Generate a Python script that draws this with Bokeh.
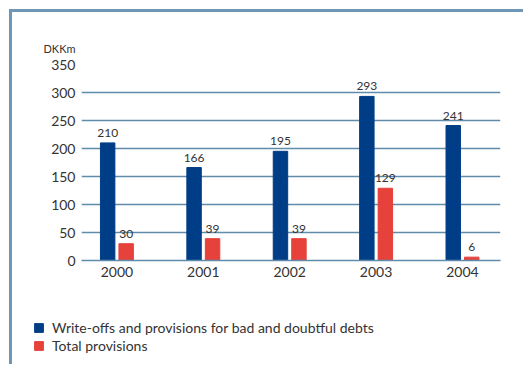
from bokeh.plotting import figure
from bokeh.models import (ColumnDataSource, Range1d, FixedTicker, Legend, LegendItem)
from bokeh.transform import dodge
from bokeh.core.properties import value
from bokeh.embed import file_html
from bokeh.resources import INLINE

years = [2000, 2001, 2002, 2003, 2004]
year_labels = ["2000", "2001", "2002", "2003", "2004"]
writeoffs = [210, 166, 195, 293, 241]
provisions = [30, 39, 39, 129, 6]
y_ticks = [0, 50, 100, 150, 200, 250, 300, 350]
series_names = ["Write-offs and provisions for bad and doubtful debts", "Total provisions"]
unit_label = "DKKm"

BLUE = "#003d87"
RED = "#e6413a"
GRID = "#5f8cab"
FRAME = "#7096b5"
TEXT = "#333333"
FONT = "Lato"

src = ColumnDataSource(dict(
    year=years,
    w=writeoffs,
    p=provisions,
    wl=[str(v) for v in writeoffs],
    pl=[str(v) for v in provisions],
))

bw = 0.167
off = 0.107

# main chart: canvas starts at (12, 12) because of the frame border + margin
p = figure(width=514, height=278, output_backend="svg", toolbar_location=None,
           x_range=Range1d(1999.59, 2004.44), y_range=Range1d(0, 350),
           min_border_left=69, min_border_right=26, min_border_top=52,
           min_border_bottom=30, title=unit_label)
p.margin = (9, 0, 0, 9)
p.styles = {"border-left": f"3px solid {FRAME}", "border-top": f"3px solid {FRAME}"}
p.outline_line_color = None
p.background_fill_color = "white"
p.border_fill_color = "white"

p.title.align = "left"
p.title.offset = -38
p.title.text_font = FONT
p.title.text_font_size = "11px"
p.title.text_font_style = "normal"
p.title.text_color = TEXT
p.title.standoff = 19

r1 = p.vbar(x=dodge("year", -off), top="w", width=bw, source=src, color=BLUE)
r2 = p.vbar(x=dodge("year", off), top="p", width=bw, source=src, color=RED)

p.text(x=dodge("year", -off), y="w", text="wl", source=src, text_align="center",
       text_baseline="alphabetic", y_offset=-10, text_font=value(FONT),
       text_font_size="12px", text_color=TEXT)
p.text(x=dodge("year", off), y="p", text="pl", source=src, text_align="center",
       text_baseline="alphabetic", y_offset=-10, text_font=value(FONT),
       text_font_size="12px", text_color=TEXT)

p.xaxis.ticker = FixedTicker(ticks=years)
p.xaxis.major_label_overrides = {y: l for y, l in zip(years, year_labels)}
p.xaxis.axis_line_color = GRID
p.xaxis.axis_line_width = 1.5
p.xaxis.major_tick_line_color = None
p.xaxis.minor_tick_line_color = None
p.xaxis.major_label_standoff = 0
p.xaxis.major_label_text_font = FONT
p.xaxis.major_label_text_font_size = "14px"
p.xaxis.major_label_text_color = TEXT

p.yaxis.ticker = FixedTicker(ticks=y_ticks)
p.yaxis.axis_line_color = None
p.yaxis.major_tick_line_color = None
p.yaxis.minor_tick_line_color = None
p.yaxis.major_label_standoff = 0
p.yaxis.major_label_text_font = FONT
p.yaxis.major_label_text_font_size = "14px"
p.yaxis.major_label_text_color = TEXT

p.xgrid.grid_line_color = None
p.ygrid.ticker = FixedTicker(ticks=y_ticks)
p.ygrid.grid_line_color = GRID
p.ygrid.grid_line_width = 1.5

# legend strip below the chart (separate root, no axes; its bars lie outside its ranges)
lg = figure(width=514, height=77, output_backend="svg", toolbar_location=None,
            x_range=Range1d(5000, 5001), y_range=Range1d(5000, 5001),
            x_axis_location=None, y_axis_location=None,
            min_border=0, min_border_left=0, min_border_right=0,
            min_border_top=0, min_border_bottom=0)
lg.margin = (0, 0, 0, 9)
lg.styles = {"border-left": f"3px solid {FRAME}"}
lg.grid.visible = False
lg.outline_line_color = None
lg.border_fill_color = "white"
lr1 = lg.vbar(x="year", top="w", width=bw, source=src, color=BLUE)
lr2 = lg.vbar(x="year", top="p", width=bw, source=src, color=RED)

legend = Legend(items=[LegendItem(label=series_names[0], renderers=[lr1]),
                       LegendItem(label=series_names[1], renderers=[lr2])],
                location=(21, 10), orientation="vertical",
                glyph_width=11, glyph_height=11, label_height=11,
                label_text_font=FONT, label_text_font_size="14px",
                label_text_color=TEXT, label_standoff=8, spacing=1,
                padding=0, margin=0, border_line_color=None,
                background_fill_alpha=0)
lg.add_layout(legend, "center")

open("out.html", "w").write(file_html([p, lg], INLINE))
